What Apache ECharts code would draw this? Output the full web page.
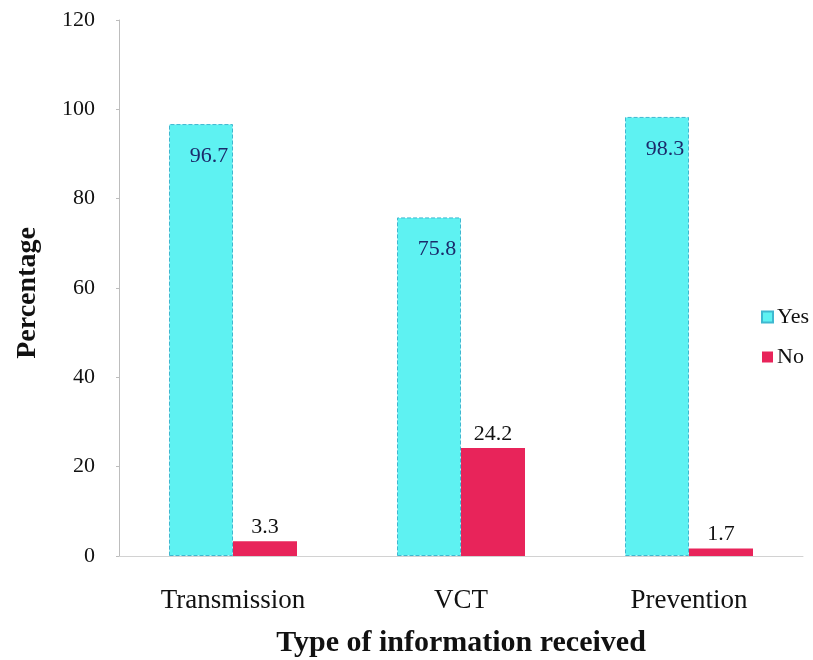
<!DOCTYPE html>
<html>
<head>
<meta charset="utf-8">
<script src="https://cdn.jsdelivr.net/npm/echarts@6/dist/echarts.min.js"></script>
<style>
  html, body { margin: 0; padding: 0; background: #ffffff; }
  #chart { width: 813px; height: 660px; }
</style>
</head>
<body>
<div id="chart"></div>
<script>
// Share of respondents who received each type of information
const categories = ['Transmission', 'VCT', 'Prevention'];
const yesValues = [96.7, 75.8, 98.3];
const noValues = [3.3, 24.2, 1.7];
const yTicks = { min: 0, max: 120, interval: 20 };

const serif = '"Liberation Serif", "DejaVu Serif", serif';

const chart = echarts.init(document.getElementById('chart'));
chart.setOption({
  animation: false,
  backgroundColor: '#ffffff',
  textStyle: { fontFamily: serif },
  grid: { left: 119, right: 10, top: 20, bottom: 104, outerBoundsMode: 'none', containLabel: false },
  legend: {
    orient: 'vertical',
    left: 756,
    top: 301,
    itemWidth: 11,
    itemHeight: 11,
    itemGap: 18,
    icon: 'rect',
    textStyle: { fontFamily: serif, fontSize: 22, color: '#111', padding: [0, 0, 0, -1] },
    data: ['Yes', 'No']
  },
  xAxis: {
    type: 'category',
    data: categories,
    name: 'Type of information received',
    nameLocation: 'middle',
    nameGap: 72,
    nameTextStyle: { fontFamily: serif, fontSize: 30, fontWeight: 'bold', color: '#111' },
    axisLine: { lineStyle: { color: '#d2d2d2', width: 1 } },
    axisTick: { show: false },
    axisLabel: { margin: 31, fontFamily: serif, fontSize: 27, color: '#111' }
  },
  yAxis: {
    type: 'value',
    min: yTicks.min,
    max: yTicks.max,
    interval: yTicks.interval,
    name: 'Percentage',
    nameLocation: 'middle',
    nameGap: 77,
    nameTextStyle: { fontFamily: serif, fontSize: 28, fontWeight: 'bold', color: '#111', padding: [0, 10, 0, 0] },
    axisLine: { show: true, lineStyle: { color: '#bdbdbd', width: 1 } },
    axisTick: { show: true, length: 3, lineStyle: { color: '#bdbdbd' } },
    splitLine: { show: false },
    axisLabel: { margin: 24, fontFamily: serif, fontSize: 22, color: '#111' }
  },
  series: [
    {
      name: 'Yes',
      type: 'bar',
      data: yesValues,
      barWidth: 64,
      barGap: '0%',
      itemStyle: { color: '#5ef2f2', borderColor: '#3fb8d0', borderWidth: 1, borderType: 'dashed' },
      label: {
        show: true,
        position: 'insideTop',
        distance: 21,
        offset: [8, 0],
        fontFamily: serif,
        fontSize: 22,
        color: '#1b2a6b'
      }
    },
    {
      name: 'No',
      type: 'bar',
      data: noValues,
      barWidth: 64,
      barGap: '0%',
      itemStyle: { color: '#e8245a' },
      label: {
        show: true,
        position: 'top',
        distance: 3,
        fontFamily: serif,
        fontSize: 22,
        color: '#111'
      }
    }
  ]
});
</script>
</body>
</html>
